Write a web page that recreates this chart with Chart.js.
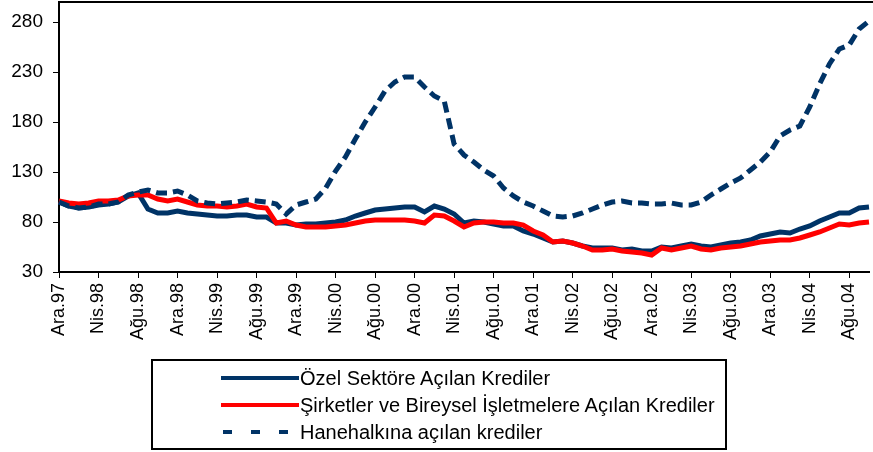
<!DOCTYPE html>
<html>
<head>
<meta charset="utf-8">
<script src="https://cdn.jsdelivr.net/npm/chart.js@4.4.1/dist/chart.umd.min.js"></script>
<style>
  body { margin: 0; background: #fff; font-family: "Liberation Sans", Arial, sans-serif; }
  #wrap { position: relative; width: 873px; height: 452px; }
  #legend { position: absolute; left: 151px; top: 359px; width: 572px; height: 87px; border: 2px solid #000; }
  .row { position: absolute; left: 0; height: 24px; font-size: 20px; line-height: 24px; color: #000; white-space: nowrap; }
  .sym { position: absolute; top: 10px; height: 4px; }
  .txt { position: absolute; left: 147px; top: 0; }
</style>
</head>
<body>
<div id="wrap">
  <canvas id="krediChart" width="873" height="452"></canvas>
  <div id="legend">
    <div class="row" style="top:5px"><div class="sym" style="left:68px;width:78px;background:#003366"></div><span class="txt">Özel Sektöre Açılan Krediler</span></div>
    <div class="row" style="top:32px"><div class="sym" style="left:68px;width:78px;background:#ff0000"></div><span class="txt">Şirketler ve Bireysel İşletmelere Açılan Krediler</span></div>
    <div class="row" style="top:59px">
      <div class="sym" style="left:70px;width:9px;background:#003366"></div>
      <div class="sym" style="left:98px;width:9px;background:#003366"></div>
      <div class="sym" style="left:126px;width:9px;background:#003366"></div>
      <span class="txt">Hanehalkına açılan krediler</span></div>
  </div>
</div>
<script>
const ctx = document.getElementById('krediChart');

// monthly, Ara.97 .. Eki.04
const monthNames = ['Oca', 'Şub', 'Mar', 'Nis', 'May', 'Haz', 'Tem', 'Ağu', 'Eyl', 'Eki', 'Kas', 'Ara'];
const labels = [];
for (let i = 0; i < 83; i++) {
  const m = (11 + i) % 12;
  const y = (97 + Math.floor((11 + i) / 12)) % 100;
  labels.push(monthNames[m] + '.' + String(y).padStart(2, '0'));
}

const ozelSektor = [100, 96, 94, 95, 97, 98, 100, 106, 109, 93,
  89, 89, 91, 89, 88, 87, 86, 86, 87, 87,
  85, 85, 79, 79, 77, 78, 78, 79, 80, 82,
  86, 89, 92, 93, 94, 95, 95, 90, 96, 93,
  88, 79, 81, 80, 78, 76, 76, 71, 68, 64,
  60, 61, 59, 56, 54, 54, 54, 52, 53, 51,
  51, 55, 54, 56, 58, 56, 55, 57, 59, 60,
  62, 66, 68, 70, 69, 73, 76, 81, 85, 89,
  89, 94, 95];

const sirketler = [101, 99, 98, 99, 101, 101, 102, 106, 107, 107,
  103, 101, 103, 100, 97, 96, 96, 95, 96, 98,
  95, 94, 79, 81, 77, 75, 75, 75, 76, 77,
  79, 81, 82, 82, 82, 82, 81, 79, 87, 86,
  81, 75, 79, 80, 80, 79, 79, 77, 71, 67,
  60, 61, 59, 56, 52, 52, 53, 51, 50, 49,
  47, 54, 52, 54, 56, 53, 52, 54, 55, 56,
  58, 60, 61, 62, 62, 64, 67, 70, 74, 78,
  77, 79, 80];

const hanehalki = [100, 96, 94, 95, 98, 98, 100, 107, 110, 112,
  109, 109, 111, 107, 101, 99, 98, 99, 100, 102,
  101, 100, 98, 88, 97, 100, 103, 114, 131, 145,
  163, 180, 195, 211, 220, 225, 225, 215, 206, 201,
  158, 147, 140, 132, 126, 114, 106, 100, 96, 91,
  86, 85, 86, 89, 93, 97, 100, 101, 99, 99,
  98, 98, 99, 97, 97, 100, 107, 113, 119, 124,
  132, 140, 150, 166, 172, 176, 195, 218, 238, 253,
  257, 273, 281];

const yTicks = [30, 80, 130, 180, 230, 280];

const fontFamily = '"Liberation Sans", Arial, sans-serif';

const frame = {
  id: 'frame',
  afterDraw(chart) {
    const a = chart.chartArea;
    const c = chart.ctx;
    c.save();
    c.strokeStyle = '#000';
    c.lineWidth = 2;
    c.beginPath();
    c.moveTo(a.left, a.top);
    c.lineTo(chart.width, a.top);
    c.stroke();
    c.restore();
  }
};

new Chart(ctx, {
  type: 'line',
  data: {
    labels: labels,
    datasets: [{
      label: 'Özel Sektöre Açılan Krediler',
      data: ozelSektor,
      borderColor: '#003366',
      borderWidth: 5,
      order: 2
    }, {
      label: 'Şirketler ve Bireysel İşletmelere Açılan Krediler',
      data: sirketler,
      borderColor: '#ff0000',
      borderWidth: 5,
      order: 1
    }, {
      label: 'Hanehalkına açılan krediler',
      data: hanehalki,
      borderColor: '#003366',
      borderWidth: 5,
      borderDash: [11, 6],
      order: 0
    }]
  },
  options: {
    responsive: false,
    animation: false,
    layout: { padding: { top: 2, right: 4, bottom: 97, left: 0 } },
    elements: { point: { radius: 0 }, line: { tension: 0, fill: false } },
    plugins: { legend: { display: false }, tooltip: { enabled: false } },
    scales: {
      x: {
        offset: false,
        grid: { drawOnChartArea: false, drawTicks: true, tickLength: 6, color: '#000', lineWidth: 1 },
        border: { color: '#000', width: 2 },
        ticks: {
          autoSkip: false, maxRotation: 90, minRotation: 90, padding: 5,
          color: '#000', font: { family: fontFamily, size: 18 },
          callback: (v, i) => (i % 4 === 0 ? labels[i] : null)
        },
        afterFit: (s) => { s.height = 83; s.paddingLeft = 0; s.paddingRight = 0; }
      },
      y: {
        min: 30,
        max: 300,
        afterBuildTicks: (s) => { s.ticks = yTicks.map(v => ({ value: v })); },
        grid: { drawOnChartArea: false, drawTicks: true, tickLength: 6, color: '#000', lineWidth: 1 },
        border: { color: '#000', width: 2 },
        ticks: { padding: 10, color: '#000', font: { family: fontFamily, size: 19 } },
        afterFit: (s) => { s.width = 59; s.paddingTop = 0; s.paddingBottom = 0; }
      }
    }
  },
  plugins: [frame]
});
</script>
</body>
</html>
